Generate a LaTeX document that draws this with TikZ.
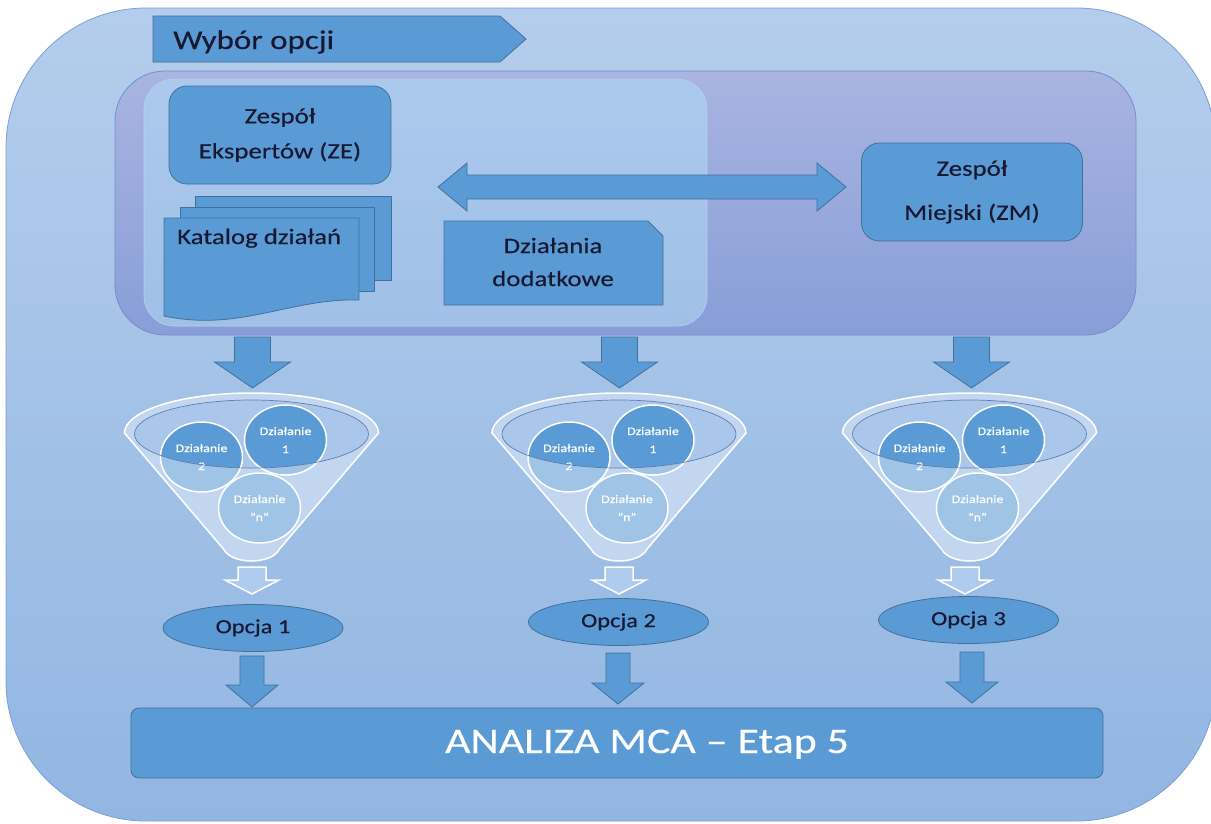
\documentclass[tikz,border=0pt]{standalone}
\usepackage{fontspec}
\setmainfont{Carlito}[FakeStretch=1.22,FakeBold=0.3]
\usetikzlibrary{shapes.geometric}
\definecolor{bgtop}{RGB}{180,205,236}
\definecolor{bgbot}{RGB}{146,182,226}
\definecolor{bgline}{RGB}{120,160,212}
\definecolor{purtop}{RGB}{169,180,225}
\definecolor{purbot}{RGB}{136,158,216}
\definecolor{purline}{RGB}{118,140,204}
\definecolor{lighttop}{RGB}{172,201,237}
\definecolor{lightbot}{RGB}{160,192,232}
\definecolor{lightline}{RGB}{185,208,240}
\definecolor{boxblue}{RGB}{91,155,213}
\definecolor{boxline}{RGB}{65,113,156}
\definecolor{txt}{RGB}{24,24,50}
\definecolor{funnelc}{RGB}{150,185,230}
\definecolor{innerc}{RGB}{170,198,235}
\definecolor{ellc}{RGB}{95,125,175}
\definecolor{hollowc}{RGB}{175,203,237}
\tikzset{
  bluebox/.style={fill=boxblue, draw=boxline, line width=0.8pt},
  darktxt/.style={text=txt, align=center, inner sep=0pt},
  actcirc/.style={ellipse, minimum width=82pt, minimum height=70pt, inner sep=0pt,
    fill=boxblue, draw=white, line width=1.5pt, text=white, align=center,
    font=\fontsize{11.5}{18}\selectfont},
  funnelbody/.style={fill=funnelc, draw=white, line width=1.5pt},
  hollowarrow/.style={fill=hollowc, draw=white, line width=1.5pt},
  opt/.style={ellipse, bluebox, minimum width=180pt, minimum height=47pt, inner sep=0pt,
    text=txt, font=\fontsize{20}{24}\selectfont}
}
% #1 style, #2 cx, #3 ytop, #4 yheadbase, #5 ytip, #6 shaft half, #7 head half
\newcommand\blockdown[7]{\draw[#1] (#2-#6,-#3) -- (#2+#6,-#3) -- (#2+#6,-#4) -- (#2+#7,-#4) -- (#2,-#5) -- (#2-#7,-#4) -- (#2-#6,-#4) -- cycle;}
\newcommand\funnelpath[1]{(#1-127,-433) arc[start angle=180,end angle=0,x radius=127,y radius=40] -- (#1+28,-549) .. controls (#1+20,-565) and (#1-20,-565) .. (#1-28,-549) -- cycle}
\newcommand\funnelat[2]{%
  \path[funnelbody] \funnelpath{#1};
  \fill[innerc] (#1,-434) ellipse [x radius=117, y radius=34];
  \node[actcirc] (#2a) at (#1+34,-440) {Działanie\\1};
  \node[actcirc] (#2b) at (#1-50,-457) {Działanie\\2};
  \node[actcirc] (#2n) at (#1+8,-508) {Działanie\\"n"};
  \fill[white, opacity=0.42, even odd rule] \funnelpath{#1} (#1,-434) ellipse [x radius=117, y radius=34];
  \draw[ellc, line width=0.7pt] (#1,-434) ellipse [x radius=117, y radius=34];
}
\begin{document}
\begin{tikzpicture}[x=1pt,y=1pt]
\useasboundingbox (0,0) rectangle (1211,-823);
\fill[white] (0,0) rectangle (1211,-823);
% outer background
\path[top color=bgtop, bottom color=bgbot, draw=bgline, line width=0.8pt, rounded corners=140pt] (6,-8) rectangle (1216,-821);
% title
\draw[bluebox] (153,-16) -- (500,-16) -- (526,-39) -- (500,-62) -- (153,-62) -- cycle;
\node[darktxt, anchor=base west, font=\fontsize{27}{32}\selectfont] (title) at (173,-49) {Wybór opcji};
% purple area
\path[rounded corners=50pt, top color=purtop, bottom color=purbot, draw=purline, line width=0.8pt] (115,-71) rectangle (1136,-335);
% inner light area
\path[rounded corners=30pt, top color=lighttop, bottom color=lightbot, draw=lightline, line width=0.6pt] (144,-79) rectangle (707,-326);
% ZE
\node[bluebox, rounded corners=18pt, minimum width=222pt, minimum height=98pt, darktxt, font=\fontsize{22}{35}\selectfont] (ze) at (280,-135) {Zespół\\Ekspertów (ZE)};
% Katalog
\draw[bluebox] (195,-196) rectangle (391,-280);
\draw[bluebox] (180,-207) rectangle (374,-291);
\draw[bluebox] (164,-218) -- (359,-218) -- (359,-300) .. controls (290,-298) and (240,-332) .. (164,-316) -- cycle;
\node[darktxt, anchor=base west, font=\fontsize{22}{26}\selectfont] (kat) at (177,-244) {Katalog działań};
% double arrow
\draw[bluebox] (438,-187) -- (467,-163) -- (467,-175) -- (817,-175) -- (817,-163) -- (846,-187) -- (817,-211) -- (817,-199) -- (467,-199) -- (467,-211) -- cycle;
% Dzialania dodatkowe
\draw[bluebox] (444,-221) -- (648,-221) -- (663,-236) -- (663,-305) -- (444,-305) -- cycle;
\node[darktxt, font=\fontsize{22}{33}\selectfont] (dd) at (553,-262) {Działania\\dodatkowe};
% ZM
\node[bluebox, rounded corners=18pt, minimum width=221pt, minimum height=98pt, darktxt, font=\fontsize{22}{44}\selectfont] (zm) at (972,-192) {Zespół\\Miejski (ZM)};
% down arrows
\blockdown{bluebox}{252.5}{337}{362}{388}{18}{38}
\blockdown{bluebox}{619.5}{337}{362}{388}{18}{38}
\blockdown{bluebox}{971.5}{337}{362}{388}{18}{38}
% funnels
\funnelat{251.5}{fa}
\funnelat{619}{fb}
\funnelat{969.5}{fc}
% hollow arrows
\blockdown{hollowarrow}{252}{567}{580}{594}{14}{27}
\blockdown{hollowarrow}{619}{567}{580}{594}{14}{27}
\blockdown{hollowarrow}{965}{567}{580}{594}{14}{27}
% options
\node[opt] (o1) at (253,-628) {Opcja 1};
\node[opt] (o2) at (618.5,-622) {Opcja 2};
\node[opt] (o3) at (968.5,-620) {Opcja 3};
% bottom arrows
\blockdown{bluebox}{252}{656}{685}{707}{12}{26}
\blockdown{bluebox}{618}{653}{683}{704}{12}{26}
\blockdown{bluebox}{972}{652}{682}{703}{12}{26}
% MCA
\node[bluebox, rounded corners=8pt, minimum width=972pt, minimum height=70pt] (mca) at (617,-743) {};
\node[text=white, inner sep=0pt, anchor=base, font=\fontsize{36}{40}\selectfont] (mcatxt) at (647,-753) {ANALIZA MCA – Etap 5};
\end{tikzpicture}
\end{document}
